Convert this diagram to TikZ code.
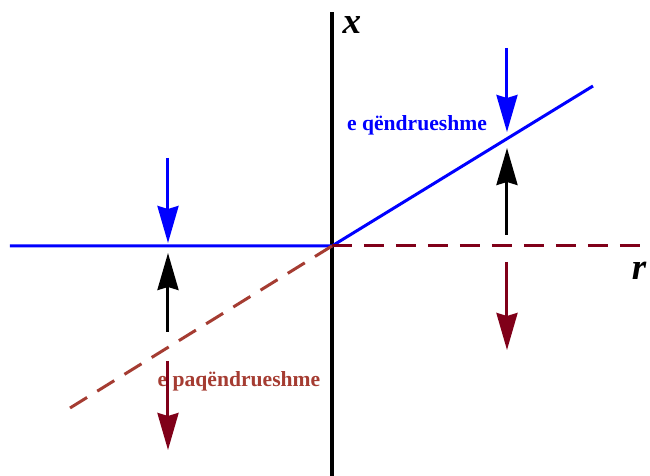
\documentclass[tikz,border=0pt]{standalone}
\usepackage{fontspec}
\setmainfont{Liberation Serif}
\usepackage{tikz}
\usetikzlibrary{arrows.meta}
\definecolor{stabblue}{RGB}{0,0,255}
\definecolor{unstred}{RGB}{128,0,25}
\definecolor{unstbrown}{RGB}{165,60,50}

\begin{document}
\begin{tikzpicture}[x=0.5pt,y=0.5pt,line width=1.5pt,>={Stealth[length=18.5pt,width=10.5pt,inset=1.5pt]},
    lab/.style={font=\fontsize{10.8}{12}\selectfont\bfseries},
    axlab/.style={font=\fontsize{18.5}{20}\selectfont\bfseries\itshape},
    brdash/.style={dash pattern=on 10pt off 6pt}]
  \useasboundingbox (-332,-230) rectangle (318,246);
  \coordinate (O) at (0,0);
  \coordinate (ybot) at (0,-230);
  \coordinate (ytop) at (0,234);
  \coordinate (lend) at (-322,0);
  \coordinate (rend) at (308,0);
  \coordinate (sup) at (261,160);
  \coordinate (sdown) at (-262,-162);
  % axis and branches
  \draw[black,line width=1.7pt] (ybot) -- (ytop);
  \node[axlab] (xlab) at (20,221) {x};
  \node[axlab] (rlab) at (307,-25) {r};
  \draw[stabblue] (lend) -- (O) -- (sup);
  \draw[unstred,brdash] (O) -- (rend);
  \draw[unstbrown,brdash] (O) -- (sdown);
  \node[lab,text=stabblue] (stab) at (85,121) {e qëndrueshme};
  \node[lab,text=unstbrown] (unstab) at (-93,-135) {e paqëndrueshme};
  % flow arrows, left side
  \coordinate (lb1) at (-164,88);  \coordinate (lb2) at (-164,3);
  \coordinate (lk1) at (-164,-86); \coordinate (lk2) at (-164,-7);
  \coordinate (lr1) at (-164,-115); \coordinate (lr2) at (-164,-204);
  \draw[->,stabblue] (lb1) -- (lb2);
  \draw[->,black] (lk1) -- (lk2);
  \draw[->,unstred] (lr1) -- (lr2);
  % flow arrows, right side
  \coordinate (rb1) at (175,198);  \coordinate (rb2) at (175,114);
  \coordinate (rk1) at (175,11);   \coordinate (rk2) at (175,98);
  \coordinate (rr1) at (175,-16);  \coordinate (rr2) at (175,-104);
  \draw[->,stabblue] (rb1) -- (rb2);
  \draw[->,black] (rk1) -- (rk2);
  \draw[->,unstred] (rr1) -- (rr2);
\end{tikzpicture}
\end{document}
